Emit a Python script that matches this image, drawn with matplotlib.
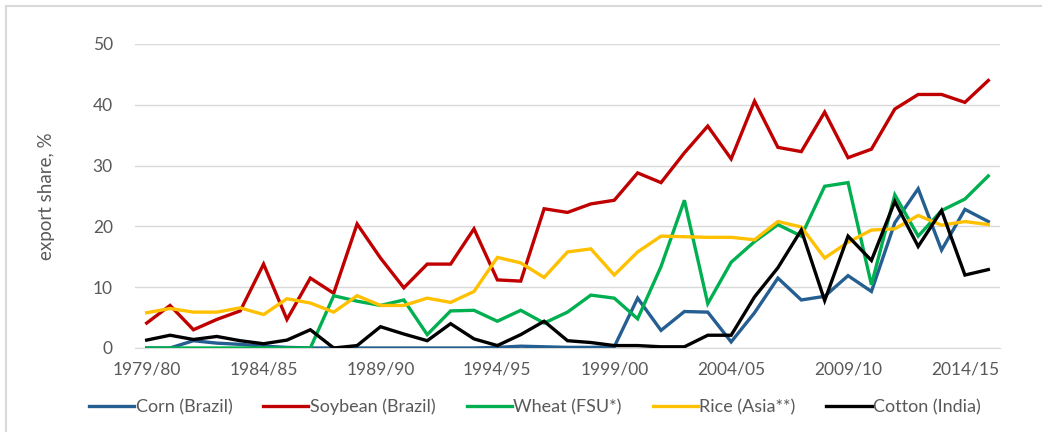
import matplotlib.pyplot as plt
from matplotlib.patches import Rectangle

# marketing years 1979/80 .. 2015/16
years = [f"{y}/{str(y + 1)[-2:]}" for y in range(1979, 2016)]
tick_years = ["1979/80", "1984/85", "1989/90", "1994/95", "1999/00",
              "2004/05", "2009/10", "2014/15"]

corn = [0.0, 0.0, 1.2, 0.8, 0.6, 0.3, 0.1, 0.0, 0.0, 0.0, 0.0, 0.0, 0.0,
        0.0, 0.0, 0.1, 0.3, 0.2, 0.1, 0.1, 0.2, 8.2, 2.9, 6.0, 5.9, 1.0,
        5.8, 11.5, 7.9, 8.5, 11.9, 9.3, 20.6, 26.2, 16.1, 22.8, 20.8]
soybean = [4.1, 7.0, 3.0, 4.7, 6.1, 13.8, 4.7, 11.5, 9.0, 20.4, 14.8, 9.9,
           13.8, 13.8, 19.6, 11.2, 11.0, 22.9, 22.3, 23.7, 24.3, 28.8, 27.2,
           32.1, 36.5, 31.1, 40.6, 33.0, 32.3, 38.8, 31.3, 32.7, 39.3, 41.7,
           41.7, 40.4, 44.0]
wheat = [0.0, 0.0, 0.0, 0.0, 0.0, 0.0, 0.0, 0.0, 8.6, 7.7, 7.0, 7.9, 2.2,
         6.1, 6.2, 4.4, 6.2, 4.1, 5.9, 8.7, 8.2, 4.8, 13.4, 24.3, 7.3, 14.1,
         17.5, 20.3, 18.4, 26.6, 27.2, 10.4, 25.2, 18.4, 22.6, 24.5, 28.3]
rice = [5.8, 6.5, 5.9, 5.9, 6.6, 5.5, 8.1, 7.4, 5.9, 8.6, 7.0, 7.0, 8.2,
        7.5, 9.3, 14.9, 14.0, 11.6, 15.8, 16.3, 12.0, 15.8, 18.4, 18.3,
        18.2, 18.2, 17.8, 20.8, 19.9, 14.8, 17.4, 19.4, 19.6, 21.8, 20.2,
        20.8, 20.3]
cotton = [1.3, 2.1, 1.4, 1.9, 1.2, 0.7, 1.3, 3.0, 0.0, 0.4, 3.5, 2.3, 1.2,
          4.0, 1.5, 0.4, 2.2, 4.4, 1.2, 0.9, 0.4, 0.4, 0.2, 0.2, 2.1, 2.1,
          8.4, 13.2, 19.4, 7.8, 18.4, 14.4, 24.1, 16.7, 22.6, 12.0, 12.9]

series = [
    ("Corn (Brazil)", corn, "#255e91"),
    ("Soybean (Brazil)", soybean, "#c00000"),
    ("Wheat (FSU*)", wheat, "#00b050"),
    ("Rice (Asia**)", rice, "#ffc000"),
    ("Cotton (India)", cotton, "#000000"),
]

plt.rcParams['font.family'] = ['Lato', 'DejaVu Sans']
grey = "#595959"

fig = plt.figure(figsize=(10.42, 4.32), dpi=100)
ax = fig.add_axes([135 / 1042, 84 / 432, 865 / 1042, 304 / 432])

# light chart border (left and top visible)
fig.patches.append(Rectangle((6 / 1042, -0.1), 1.2, (432 - 6) / 432 + 0.1,
                             transform=fig.transFigure, fill=False,
                             edgecolor="#d9d9d9", linewidth=1.5))

x = list(range(len(years)))
for name, vals, col in series:
    ax.plot(x, vals, color=col, linewidth=2.4, label=name,
            solid_joinstyle="miter", zorder=3)

ax.set_xlim(-0.5, len(years) - 0.5)
ax.set_ylim(0, 50)
ax.set_yticks(range(0, 51, 10))
ax.set_xticks([years.index(t) for t in tick_years])
ax.set_xticklabels(tick_years)
ax.grid(axis="y", color="#d9d9d9", linewidth=1)
ax.set_axisbelow(True)
for side in ["top", "right", "left"]:
    ax.spines[side].set_visible(False)
ax.spines["bottom"].set_color("#d9d9d9")
ax.tick_params(axis="both", length=0, labelsize=12.5, colors=grey)
ax.tick_params(axis="y", pad=16)
ax.tick_params(axis="x", pad=10)
ax.set_ylabel("export share, %", fontsize=13.5, color=grey, labelpad=27)

ax.legend(loc="center", bbox_to_anchor=(535 / 1042, 25 / 432),
          bbox_transform=fig.transFigure, ncol=5, frameon=False,
          fontsize=13, labelcolor=grey, handlelength=2.5,
          handletextpad=0.1, columnspacing=1.7)

fig.savefig("out.png", dpi=100)
